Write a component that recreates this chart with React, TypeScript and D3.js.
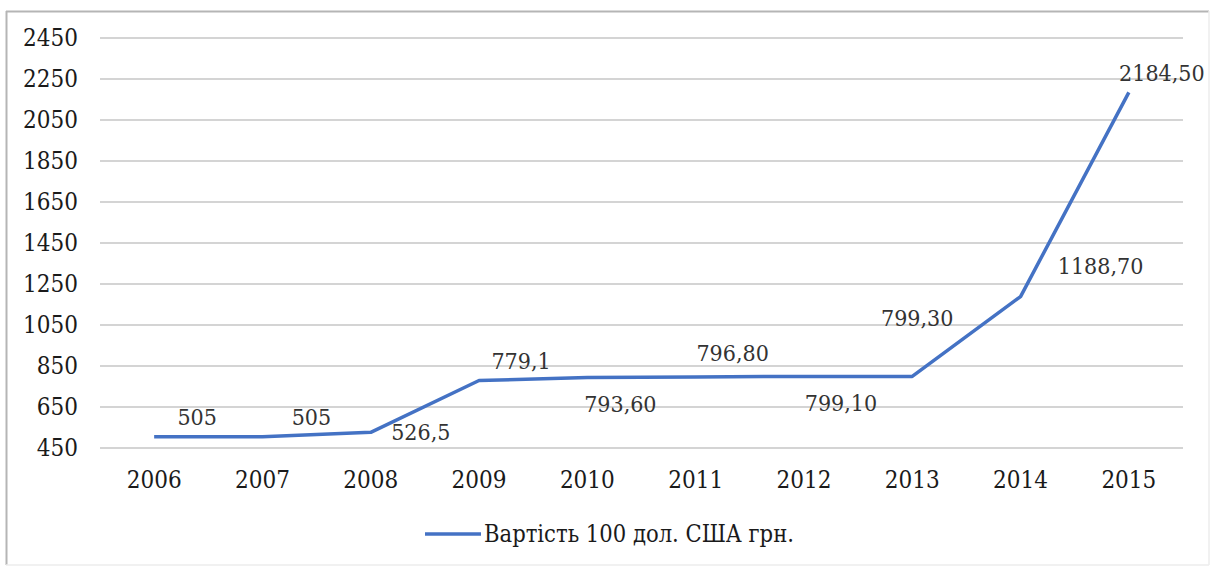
import React from "react";
import * as d3 from "d3";

const years = ["2006", "2007", "2008", "2009", "2010", "2011", "2012", "2013", "2014", "2015"];
const values = [505, 505, 526.5, 779.1, 793.6, 796.8, 799.1, 799.3, 1188.7, 2184.5];
const valueLabels = ["505", "505", "526,5", "779,1", "793,60", "796,80", "799,10", "799,30", "1188,70", "2184,50"];
const yTicks = [450, 650, 850, 1050, 1250, 1450, 1650, 1850, 2050, 2250, 2450];
const seriesName = "Вартість 100 дол. США грн.";

// label placement offsets (layout only)
const labelOffsets: [number, number][] = [
  [43, -20], [49, -20], [50, 0], [42, -20], [33, 26],
  [37, -24], [37, 27], [5, -58], [80, -31], [33, -19],
];

const W = 1211;
const H = 568;
const left = 100;
const right = 1183;
const top = 38;
const bottom = 448;
const FONT = "DejaVu Serif Condensed, DejaVu Serif, serif";
const LINE = "#4472C4";

export default function App() {
  const x = d3.scaleBand<string>().domain(years).range([left, right]);
  const y = d3.scaleLinear().domain([450, 2450]).range([bottom, top]);
  const cx = (i: number) => (x(years[i]) as number) + x.bandwidth() / 2;
  const line = d3
    .line<number>()
    .x((_, i) => cx(i))
    .y((d) => y(d));

  const txt = { fontFamily: FONT } as React.CSSProperties;

  return (
    <svg
      width={W}
      height={H}
      style={{ position: "absolute", left: 0, top: 0, display: "block", background: "#fff", fontFamily: FONT }}
    >
      <rect x={0} y={0} width={W} height={H} fill="#fff" />
      {/* chart border */}
      <line x1={6.5} y1={11} x2={6.5} y2={565} stroke="#b5b5b5" strokeWidth={2} />
      <line x1={6} y1={11.5} x2={1209} y2={11.5} stroke="#b5b5b5" strokeWidth={2} />
      <line x1={1209} y1={11} x2={1209} y2={565} stroke="#ececec" strokeWidth={1.5} />
      <line x1={6} y1={565} x2={1209} y2={565} stroke="#ececec" strokeWidth={1.5} />

      {/* gridlines */}
      {yTicks.map((t) => (
        <line key={t} x1={left} x2={right} y1={y(t)} y2={y(t)} stroke="#d4d4d4" strokeWidth={2} />
      ))}
      {/* y tick labels */}
      {yTicks.map((t) => (
        <text
          key={"yl" + t}
          x={78}
          y={y(t)}
          textAnchor="end"
          dominantBaseline="central"
          style={txt}
          fontSize={24}
          fill="#1a1a1a"
        >
          {t}
        </text>
      ))}
      {/* x tick labels */}
      {years.map((yr, i) => (
        <text
          key={"xl" + yr}
          x={cx(i)}
          y={480}
          textAnchor="middle"
          dominantBaseline="central"
          style={txt}
          fontSize={24}
          fill="#1a1a1a"
        >
          {yr}
        </text>
      ))}
      {/* line */}
      <path d={line(values) || ""} fill="none" stroke={LINE} strokeWidth={3.5} strokeLinejoin="round" />
      {/* data labels */}
      {values.map((v, i) => (
        <text
          key={"dl" + i}
          x={cx(i) + labelOffsets[i][0]}
          y={y(v) + labelOffsets[i][1]}
          textAnchor="middle"
          dominantBaseline="central"
          style={txt}
          fontSize={23}
          fill="#333"
        >
          {valueLabels[i]}
        </text>
      ))}
      {/* legend */}
      <line x1={425} x2={481} y1={534} y2={534} stroke={LINE} strokeWidth={3.5} />
      <text
        x={484}
        y={534}
        dominantBaseline="central"
        style={txt}
        fontSize={23.5}
        fill="#1a1a1a"
      >
        {seriesName}
      </text>
    </svg>
  );
}
